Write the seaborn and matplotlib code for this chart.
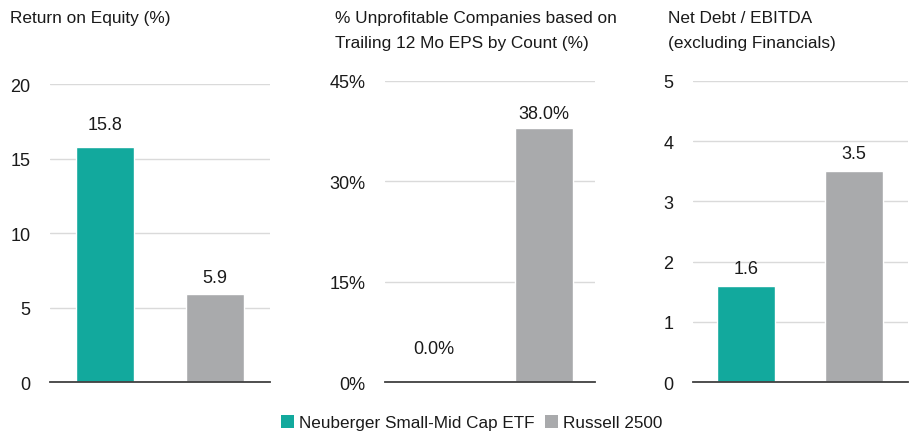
import matplotlib
matplotlib.use("Agg")
import matplotlib.pyplot as plt
from matplotlib.patches import Patch
from matplotlib.ticker import FuncFormatter
import seaborn as sns
import pandas as pd

# Data
series = ["Neuberger Small-Mid Cap ETF", "Russell 2500"]
roe = [15.8, 5.9]
unprofitable = [0.0, 38.0]
net_debt_ebitda = [1.6, 3.5]

titles = [
    "Return on Equity (%)",
    "% Unprofitable Companies based on\nTrailing 12 Mo EPS by Count (%)",
    "Net Debt / EBITDA\n(excluding Financials)",
]
yticks = [[0, 5, 10, 15, 20], [0, 15, 30, 45], [0, 1, 2, 3, 4, 5]]

colors = ["#12A99D", "#A9AAAC"]

sns.set_theme(style="white")
plt.rcParams["font.family"] = ["Liberation Sans", "DejaVu Sans"]
plt.rcParams["text.color"] = "#1a1a1a"

fig = plt.figure(figsize=(9.11, 4.35), dpi=100)

# axes placement (figure fractions)
boxes = [
    (0.0549, 0.1195, 0.2415, 0.685),
    (0.4226, 0.1195, 0.2305, 0.692),
    (0.7607, 0.1195, 0.2360, 0.692),
]
title_x = [10 / 911, 335 / 911, 668 / 911]
xlims = [(-0.5, 1.5), (-0.44, 1.46), (-0.49, 1.5)]
fmts = ["{:.1f}", "{:.1f}%", "{:.1f}"]
# label offsets above each bar (points), as placed in the reference
pads = [[10, 6], [18, 4], [6.5, 7]]

datasets = [roe, unprofitable, net_debt_ebitda]

for i, vals in enumerate(datasets):
    ax = fig.add_axes(boxes[i])
    df = pd.DataFrame({"series": series, "value": vals})
    sns.barplot(data=df, x="series", y="value", hue="series", palette=colors,
                width=0.53, legend=False, ax=ax, saturation=1)
    ax.set_xlim(*xlims[i])
    ax.set_ylim(yticks[i][0], yticks[i][-1])
    ax.set_yticks(yticks[i])
    if i == 1:
        ax.yaxis.set_major_formatter(FuncFormatter(lambda v, p: f"{v:.0f}%"))
    ax.set_xticks([])
    ax.set_xlabel("")
    ax.set_ylabel("")
    ax.grid(axis="y", color="#DADADA", linewidth=1)
    ax.set_axisbelow(True)
    for s in ["top", "right", "left"]:
        ax.spines[s].set_visible(False)
    ax.spines["bottom"].set_color("#404040")
    ax.spines["bottom"].set_linewidth(1.3)
    ax.tick_params(axis="y", length=0, pad=14, labelsize=13, labelcolor="#1a1a1a")
    for j, c in enumerate(ax.containers):
        ax.bar_label(c, labels=[fmts[i].format(v) for v in c.datavalues],
                     padding=pads[i][j], fontsize=13)
    fig.text(title_x[i], 0.975, titles[i], ha="left", va="top", fontsize=12.4,
             linespacing=1.85)

handles = [Patch(facecolor=c, edgecolor="none") for c in colors]
fig.legend(handles, series, loc="center", bbox_to_anchor=(0.518, 0.026), ncol=2,
           frameon=False, fontsize=12.3, handlelength=0.75, handleheight=0.75,
           handletextpad=0.3, columnspacing=0.6)

fig.savefig("out.png", dpi=100)
